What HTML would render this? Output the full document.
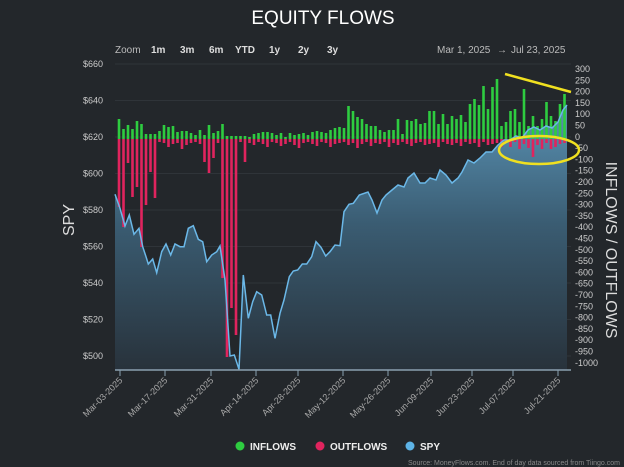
<!DOCTYPE html>
<html><head><meta charset="utf-8"><style>
html,body{margin:0;padding:0;background:#23272b;}
svg{display:block;font-family:"Liberation Sans",sans-serif;}
</style></head><body>
<svg id="s" width="624" height="467" viewBox="0 0 624 467" xmlns="http://www.w3.org/2000/svg">
<defs><linearGradient id="g" x1="0" y1="0" x2="0" y2="1"><stop offset="0" stop-color="#5a93b5"/><stop offset="0.45" stop-color="#3a5c72"/><stop offset="1" stop-color="#28323b"/></linearGradient></defs>
<rect width="624" height="467" fill="#23272b"/>
<text x="323" y="24" fill="#fff" font-size="19" text-anchor="middle">EQUITY FLOWS</text>
<g font-size="10" fill="#ddd"><text x="115" y="53" fill="#bbb">Zoom</text>
<g font-weight="bold"><text x="151" y="53">1m</text><text x="180" y="53">3m</text><text x="209" y="53">6m</text><text x="235" y="53">YTD</text><text x="269" y="53">1y</text><text x="298" y="53">2y</text><text x="327" y="53">3y</text></g>
<text x="437" y="53" fill="#bbb">Mar 1, 2025</text><text x="497" y="53" fill="#bbb">→</text><text x="511" y="53" fill="#bbb">Jul 23, 2025</text></g>
<g id="grid" stroke="#2f3439" stroke-width="1"></g>
<g id="left" font-size="9" fill="#ccc" text-anchor="end"></g>
<g id="right" font-size="9" fill="#ccc"></g>
<path id="area" fill="url(#g)"/>
<g id="bars"></g>
<polyline id="line" fill="none" stroke="#6bb8e8" stroke-width="1.5"/>
<line x1="115" y1="370" x2="571" y2="370" stroke="#8aa0b0" stroke-width="1.5"/>
<g id="ticks" stroke="#8aa0b0"></g>
<g id="xl" font-size="9" fill="#aaa" text-anchor="end"></g>
<text transform="translate(74,220) rotate(-90)" fill="#ddd" font-size="16" text-anchor="middle">SPY</text>
<text transform="translate(606,250) rotate(90)" fill="#ddd" font-size="16" text-anchor="middle">INFLOWS / OUTFLOWS</text>
<line x1="505" y1="74" x2="571" y2="92" stroke="#f0e020" stroke-width="2.5"/>
<ellipse cx="539" cy="150" rx="40" ry="14" fill="none" stroke="#f0e020" stroke-width="2.5"/>
<g font-size="10" font-weight="bold" fill="#eee">
<circle cx="240" cy="446" r="4.5" fill="#2ecc40"/><text x="250" y="450">INFLOWS</text>
<circle cx="320" cy="446" r="4.5" fill="#e0245e"/><text x="330" y="450">OUTFLOWS</text>
<circle cx="410" cy="446" r="4.5" fill="#5db3e6"/><text x="420" y="450">SPY</text></g>
<text x="620" y="465" font-size="7" fill="#888" text-anchor="end">Source: MoneyFlows.com. End of day data sourced from Tiingo.com</text>
</svg>
<script>
var NS="http://www.w3.org/2000/svg";
function el(p,t,a,txt){var e=document.createElementNS(NS,t);for(var k in a)e.setAttribute(k,a[k]);if(txt!==undefined)e.textContent=txt;document.getElementById(p).appendChild(e);return e;}
var L=["$660","$640","$620","$600","$580","$560","$540","$520","$500"];
for(var i=0;i<9;i++){var y=64+i*36.5;el("left","text",{x:103,y:y+3},L[i]);el("grid","line",{x1:115,x2:571,y1:y,y2:y});}
for(var i=0;i<27;i++){el("right","text",{x:575,y:69+i*11.3+3},String(300-50*i));}
var G=[20,10,14,10,18,15,5,5,5,8,14,12,13,7,8,8,6,4,9,4,14,6,8,15,3,3,3,3,3,2,5,6,7,7,6,4,6,2,6,4,5,6,4,7,8,7,6,9,11,12,11,33,28,22,20,15,13,13,9,7,9,9,20,5,19,18,20,15,16,28,28,15,25,15,23,20,24,17,35,40,34,53,30,52,60,13,17,28,30,17,50,13,23,13,20,37,23,18,35,45];
var R=[68,88,24,58,48,108,66,33,59,3,4,8,5,4,10,6,4,3,5,23,34,19,4,139,218,169,196,3,23,4,6,3,5,8,3,4,7,5,3,6,9,4,3,5,7,3,4,8,5,4,3,6,4,9,5,3,7,4,5,3,8,4,6,3,5,7,4,3,6,5,4,8,3,5,6,4,7,3,5,4,8,3,6,5,4,8,4,8,3,10,5,9,18,6,10,4,10,8,5,4];
var B=139;
for(var i=0;i<100;i++){var x=119+i*4.5;
el("bars","rect",{x:x-1.3,y:B-G[i],width:2.6,height:G[i],fill:"#2ecc40"});
el("bars","rect",{x:x-1.3,y:B,width:2.6,height:R[i],fill:"#e0245e"});}
var z=[[165,163],[180,205],[195,258],[208,225],[222,283],[237,265],[248,320],[258,350],[265,372],[278,357],[290,398],[305,335],[318,312],[332,345],[345,312],[360,320],[372,320],[385,265],[400,257],[415,298],[428,305],[440,365],[455,345],[470,335],[480,318],[495,420],[510,648],[523,645],[537,688],[550,405],[565,535],[578,485],[590,455],[605,465],[620,525],[632,525],[645,595],[660,520],[672,480],[688,410],[700,393],[713,390],[727,372],[740,372],[755,350],[768,305],[783,322],[797,348],[810,335],[825,315],[840,317],[852,215],[867,193],[880,190],[898,165]];
var P=z.map(function(p){return [60+p[0]/3,140+p[1]/3];});
P=P.concat([[368,192],[372,200],[377,213],[382,200],[386,195],[392,190],[398,185],[404,187],[408,178],[414,173],[420,183],[425,183],[430,178],[436,180],[440,170],[446,175],[452,183],[458,178],[462,172],[468,160],[474,163],[480,158],[486,152],[492,152],[498,145],[504,140],[510,140],[516,136],[522,138],[528,130],[534,127],[540,130],[546,126],[552,128],[558,122],[563,110],[567,105]]);
var pts=P.map(function(p){return p[0].toFixed(1)+","+p[1].toFixed(1);}).join(" ");
document.getElementById("line").setAttribute("points",pts);
document.getElementById("area").setAttribute("d","M"+P[0][0]+",370 L"+pts.split(" ").join(" L")+" L"+P[P.length-1][0]+",370 Z");
var D=["Mar-03-2025","Mar-17-2025","Mar-31-2025","Apr-14-2025","Apr-28-2025","May-12-2025","May-26-2025","Jun-09-2025","Jun-23-2025","Jul-07-2025","Jul-21-2025"];
var TX=[120,165,211,256,298,343,388,431,472,513,558];
for(var i=0;i<11;i++){el("ticks","line",{x1:TX[i],x2:TX[i],y1:370,y2:376});
el("xl","text",{transform:"translate("+(TX[i]+3)+",381) rotate(-45)"},D[i]);}
</script>
</body></html>
